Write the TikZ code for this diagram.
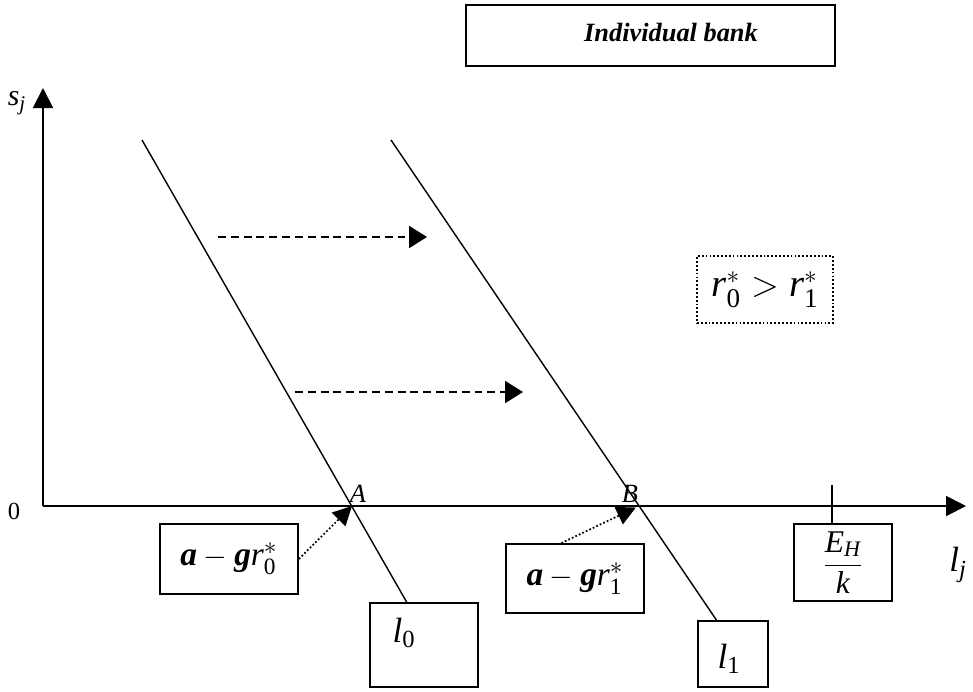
\documentclass[tikz,border=0pt]{standalone}
\usepackage{amsmath}
\usepackage{fontspec}
\setmainfont{Liberation Serif}
\usetikzlibrary{arrows.meta,positioning}

\newcommand{\vi}[1]{\textit{#1}}
\newcommand{\vb}[1]{\textbf{\textit{#1}}}

\begin{document}
\begin{tikzpicture}[x=0.02cm,y=-0.02cm,
                    axis/.style={line width=1.1pt, -{Triangle[length=0.4cm,width=0.4cm]}},
                    curve/.style={line width=0.8pt},
                    box/.style={draw, line width=1.1pt, inner sep=0pt},
                    dotbox/.style={draw, line width=1pt, dash pattern=on 1pt off 1.2pt, inner sep=0pt},
                    shiftarrow/.style={line width=1.1pt, dash pattern=on 4.5pt off 2.8pt, -{Triangle[length=0.36cm,width=0.44cm]}},
                    pointer/.style={line width=1pt, dash pattern=on 1pt off 1.2pt, -{Triangle[length=0.38cm,width=0.38cm]}},
                   ]

\useasboundingbox (0,0) rectangle (973,691);

\coordinate (O) at (43,506);
\coordinate (A) at (352,506);
\coordinate (B) at (639,506);

% axes
\draw[axis] (O) -- (966,506);
\draw[axis] (O) -- (43,88);
\node (zero) at (14,511) {\fontsize{14}{16}\selectfont 0};
\node (sj) at (17,103) {\fontsize{17}{20}\selectfont $\vi{s}_{\vi{j}}$};
\node (lj) at (958,565) {\fontsize{20}{24}\selectfont $\vi{l}_{\vi{j}}$};

% boxes
\node[box, minimum width=7.38cm, minimum height=1.22cm] (title) at (650.5,35.5) {};
\node at (671,33) {\fontsize{15}{18}\selectfont\bfseries\itshape Individual bank};

\node[box, minimum width=2.16cm, minimum height=1.68cm] (boxL0) at (424,645) {};
\node at (404,633) {\fontsize{20}{24}\selectfont $\vi{l}_{\text{0}}$};
\node[box, minimum width=1.4cm, minimum height=1.32cm] (boxL1) at (733,654) {};
\node at (729,659) {\fontsize{20}{24}\selectfont $\vi{l}_{\text{1}}$};

\node[box, minimum width=2.76cm, minimum height=1.4cm] (boxGA) at (229,559)
    {\fontsize{19}{22}\selectfont $\vb{a}-\vb{g}\vi{r}_{\text{0}}^{*}$};
\node[box, minimum width=2.76cm, minimum height=1.38cm] (boxGB) at (575,578.5)
    {\fontsize{19}{22}\selectfont $\vb{a}-\vb{g}\vi{r}_{\text{1}}^{*}$};
\node[box, minimum width=1.96cm, minimum height=1.54cm] (boxEH) at (843,562.5)
    {\fontsize{18}{21}\selectfont $\dfrac{\vi{E}_{\vi{H}}}{\vi{k}}$};
\node[dotbox, minimum width=2.72cm, minimum height=1.34cm] (ineq) at (765,289.5)
    {\fontsize{22}{26}\selectfont $\vi{r}_{\text{0}}^{*}>\vi{r}_{\text{1}}^{*}$};

% demand lines
\draw[curve] (142,140) -- (boxL0.112);
\draw[curve] (391,140) -- (boxL1.116);
\node (labA) at (358,494) {\fontsize{15}{18}\selectfont\itshape A};
\node (labB) at (630,494) {\fontsize{15}{18}\selectfont\itshape B};

\coordinate (tick) at (832,485);
\draw[curve] (tick) -- (tick |- boxEH.north);

% shifts
\draw[shiftarrow] (218,237) -- (427,237);
\draw[shiftarrow] (295,392) -- (523,392);

\draw[pointer] (boxGA.east) -- (A);
\draw[pointer, shorten >=2pt] (boxGB.111) -- (B);

\end{tikzpicture}
\end{document}
